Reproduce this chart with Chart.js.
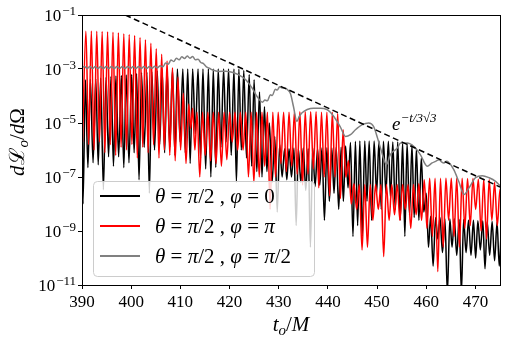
<!DOCTYPE html>
<html lang="en">
<head>
<meta charset="UTF-8">
<title>dL/dOmega vs t</title>
<script src="https://cdn.jsdelivr.net/npm/chart.js"></script>
<style>
  html, body { margin: 0; padding: 0; background: #fff; }
  #wrap { width: 508px; height: 343px; }
</style>
</head>
<body>
<div id="wrap"><canvas id="chart" width="508" height="343"></canvas></div>
<script>
// values, stored as log10 of dL/dOmega
const xTicks = [390, 400, 410, 420, 430, 440, 450, 460, 470];
const yTickValues = [1e-11, 1e-9, 1e-7, 1e-5, 1e-3, 1e-1];

const seriesNames = ['θ = π/2 , φ = 0', 'θ = π/2 , φ = π', 'θ = π/2 , φ = π/2'];

// theta = pi/2, phi = 0 (black)
const blackT = [390.0, 390.2, 390.7, 391.2, 391.7, 392.25, 392.8, 393.3, 393.8, 394.35, 394.9, 395.4, 395.9, 396.4, 396.9, 397.45,
  398.0, 398.5, 399.0, 399.55, 400.1, 400.6, 401.1, 401.6, 402.1, 402.65, 403.2, 403.7, 404.2, 404.75, 405.3, 405.8,
  406.3, 406.8, 407.3, 407.85, 408.4, 408.9, 409.4, 409.95, 410.5, 411.0, 411.5, 412.0, 412.5, 413.05, 413.6, 414.1,
  414.6, 415.15, 415.7, 416.2, 416.7, 417.2, 417.7, 418.25, 418.8, 419.3, 419.8, 420.35, 420.9, 421.4, 421.9, 422.4,
  422.9, 423.45, 424.0, 424.5, 425.0, 425.55, 426.1, 426.6, 427.1, 427.6, 428.1, 428.65, 429.2, 429.7, 430.2, 430.7,
  431.2, 431.65, 432.1, 432.6, 433.1, 433.55, 434.0, 434.5, 435.0, 435.5, 436.0, 436.45, 436.9, 437.4, 437.9, 438.35,
  438.8, 439.3, 439.8, 440.3, 440.8, 441.25, 441.7, 442.2, 442.7, 443.15, 443.6, 444.1, 444.6, 445.1, 445.6, 446.05,
  446.5, 447.0, 447.5, 447.95, 448.4, 448.9, 449.4, 449.9, 450.4, 450.85, 451.3, 451.8, 452.3, 452.75, 453.2, 453.7,
  454.2, 454.7, 455.2, 455.65, 456.1, 456.6, 457.1, 457.55, 458.0, 458.5, 459.0, 459.5, 460.0, 460.45, 460.9, 461.4,
  461.9, 462.35, 462.8, 463.3, 463.8, 464.3, 464.8, 465.25, 465.7, 466.2, 466.7, 467.15, 467.6, 468.1, 468.6, 469.1,
  469.6, 470.05, 470.5, 471.0, 471.5, 471.95, 472.4, 472.9, 473.4, 473.9, 474.4, 474.85, 475.3];
const blackLog = [-3.6, -8.0, -3.40, -6.65, -3.38, -6.47, -3.36, -6.55, -3.33, -7.47, -3.30, -6.25, -3.28, -6.6, -3.26, -6.25,
  -3.24, -6.65, -3.22, -6.47, -3.20, -6.1, -3.17, -7.1, -3.14, -5.9, -3.12, -7.6, -3.10, -6.0, -3.07, -5.8,
  -3.05, -6.1, -3.03, -5.9, -3.01, -6.2, -3.0, -5.7, -3.0, -6.1, -3.0, -6.5, -3.0, -5.4, -3.0, -6.3,
  -3.0, -6.7, -3.0, -7.0, -3.0, -6.65, -3.0, -5.9, -3.0, -5.7, -3.0, -6.2, -3.0, -7.2, -3.0, -6.0,
  -3.05, -6.3, -3.2, -6.6, -3.4, -6.8, -3.85, -7.0, -4.4, -6.8, -5.0, -7.2, -5.5, -8.3, -5.8, -7.0,
  -5.95, -7.1, -5.95, -7.0, -5.93, -8.8, -5.95, -7.2, -5.93, -7.5, -5.95, -9.6, -5.93, -7.35, -5.95, -7.3,
  -5.93, -8.6, -5.92, -7.9, -5.93, -7.6, -5.9, -8.2, -5.9, -7.9, -5.85, -7.4, -5.72, -9.2, -5.68, -8.8,
  -5.67, -9.2, -5.67, -7.9, -5.67, -8.6, -5.67, -7.6, -5.67, -8.2, -5.68, -7.6, -5.68, -7.8, -5.7, -8.2,
  -5.7, -8.6, -5.72, -9.2, -5.75, -8.4, -5.82, -8.5, -5.95, -8.6, -6.3, -8.3, -7.6, -9.6, -8.45, -10.3,
  -8.5, -9.3, -8.5, -9.8, -8.55, -11.3, -8.55, -9.6, -8.55, -9.9, -8.57, -11.3, -8.57, -9.8, -8.6, -9.9,
  -8.6, -10.0, -8.62, -9.7, -8.62, -10.4, -8.65, -9.9, -8.65, -10.1, -8.68, -10.3, -8.7];

// theta = pi/2, phi = pi (red)
const redT = [390.1, 390.8, 391.35, 391.9, 392.45, 393.0, 393.55, 394.1, 394.65, 395.2, 395.75, 396.3, 396.85, 397.4, 397.95, 398.5,
  399.05, 399.6, 400.15, 400.7, 401.25, 401.8, 402.35, 402.9, 403.45, 404.0, 404.55, 405.1, 405.65, 406.2, 406.75, 407.3,
  407.85, 408.4, 408.95, 409.5, 410.05, 410.6, 411.15, 411.7, 412.1, 412.5, 412.95, 413.4, 413.95, 414.5, 415.05, 415.6,
  416.15, 416.7, 417.25, 417.8, 418.35, 418.9, 419.45, 420.0, 420.55, 421.1, 421.65, 422.2, 422.75, 423.3, 423.85, 424.4,
  424.95, 425.5, 426.05, 426.6, 427.15, 427.7, 428.25, 428.8, 429.35, 429.9, 430.45, 431.0, 431.55, 432.1, 432.65, 433.2,
  433.75, 434.3, 434.85, 435.4, 435.95, 436.5, 437.05, 437.6, 438.15, 438.7, 439.25, 439.8, 440.35, 440.9, 441.45, 442.0,
  442.55, 443.1, 443.65, 444.2, 444.75, 445.3, 445.85, 446.4, 446.95, 447.5, 448.05, 448.6, 449.15, 449.7, 450.25, 450.8,
  451.35, 451.9, 452.45, 453.0, 453.55, 454.1, 454.65, 455.2, 455.75, 456.3, 456.85, 457.4, 457.95, 458.5, 459.05, 459.6,
  460.15, 460.7, 461.25, 461.8, 462.35, 462.9, 463.45, 464.0, 464.55, 465.1, 465.65, 466.2, 466.75, 467.3, 467.85, 468.4,
  468.95, 469.5, 470.05, 470.6, 471.15, 471.7, 472.25, 472.8, 473.35, 473.9, 474.45, 475.0, 475.5];
const redLog = [-5.7, -1.60, -5.8, -1.59, -6.0, -1.60, -5.7, -1.61, -6.1, -1.62, -5.8, -1.64, -6.2, -1.66, -5.9, -1.69,
  -6.0, -1.72, -5.8, -1.76, -6.3, -1.83, -5.9, -1.92, -6.1, -2.05, -5.8, -2.25, -6.3, -2.45, -6.0, -2.70,
  -6.2, -2.95, -6.4, -3.30, -6.0, -3.9, -6.5, -4.3, -5.2, -4.45, -6.0, -4.6, -7.0, -4.6, -6.2, -4.6,
  -6.4, -4.6, -6.5, -4.6, -6.6, -4.6, -6.36, -4.6, -5.7, -4.6, -6.0, -4.6, -6.0, -4.6, -7.0, -4.6,
  -7.2, -4.6, -7.0, -4.6, -6.6, -4.6, -8.2, -4.6, -7.0, -4.6, -6.5, -4.6, -6.8, -4.6, -6.6, -4.58,
  -6.9, -4.58, -7.3, -4.58, -6.9, -4.58, -6.7, -4.58, -7.4, -4.6, -7.0, -4.6, -7.7, -4.6, -7.0, -4.65,
  -7.8, -5.25, -7.0, -6.4, -8.0, -7.25, -8.2, -7.28, -9.7, -7.28, -9.6, -7.28, -8.6, -7.28, -8.2, -7.28,
  -9.95, -7.28, -8.6, -7.28, -8.4, -7.28, -8.6, -7.28, -8.2, -7.28, -8.9, -7.28, -8.4, -7.25, -8.6, -7.1,
  -8.9, -7.05, -9.2, -7.05, -10.5, -7.05, -9.6, -7.05, -8.6, -7.05, -9.2, -7.05, -9.6, -7.05, -8.9, -7.06,
  -8.8, -7.06, -8.2, -7.08, -9.0, -7.08, -9.3, -7.1, -8.6, -7.2, -8.8, -7.45, -8.0];

// theta = pi/2, phi = pi/2 (gray)
const grayT = [390.0, 390.5, 391.05, 391.6, 392.15, 392.7, 393.25, 393.8, 394.35, 394.9, 395.45, 396.0, 396.55, 397.1, 397.65, 398.2,
  398.75, 399.3, 399.85, 400.4, 400.95, 401.5, 402.05, 402.6, 403.15, 403.7, 404.25, 404.8, 405.35, 405.9, 406.45, 407.0,
  407.55, 408.1, 408.65, 409.2, 409.75, 410.3, 410.85, 411.4, 411.95, 412.5, 413.05, 413.6, 414.15, 414.7, 415.3, 416.0,
  416.5, 417.8, 419.2, 420.5, 421.9, 423.3, 424.6, 425.6, 426.7, 427.2, 427.7, 428.3, 428.7, 429.3, 429.7, 430.2,
  430.7, 431.3, 431.8, 432.4, 433.0, 433.7, 434.2, 434.7, 435.8, 437.1, 438.5, 439.8, 440.5, 441.2, 442.5, 443.6,
  444.6, 445.6, 447.0, 448.3, 449.3, 450.1, 451.0, 451.9, 452.7, 454.1, 454.8, 456.1, 457.5, 458.8, 460.2, 461.2,
  461.9, 462.6, 463.1, 463.6, 464.1, 464.6, 465.6, 466.6, 467.7, 468.7, 470.0, 471.4, 472.8, 474.1, 475.1];
const grayLog = [-2.95, -2.91, -2.98, -2.91, -2.98, -2.91, -2.98, -2.91, -2.98, -2.91, -2.98, -2.91, -2.98, -2.91, -2.98, -2.91,
  -2.98, -2.91, -2.98, -2.91, -2.98, -2.91, -2.98, -2.91, -2.98, -2.91, -2.97, -2.90, -2.96, -2.88, -2.92, -2.78,
  -2.82, -2.67, -2.72, -2.60, -2.66, -2.55, -2.61, -2.52, -2.60, -2.54, -2.66, -2.64, -2.76, -2.80, -2.92, -2.98,
  -3.03, -3.09, -3.08, -3.12, -3.22, -3.40, -3.71, -4.02, -4.23, -4.15, -4.18, -3.95, -3.98, -3.75, -3.78, -3.66,
  -3.70, -3.70, -3.77, -3.92, -4.39, -4.94, -4.75, -4.63, -4.50, -4.45, -4.45, -4.50, -4.60, -4.76, -5.13, -5.50,
  -5.43, -5.25, -5.06, -5.00, -5.13, -5.56, -6.11, -6.54, -6.17, -5.93, -5.74, -5.74, -5.87, -6.17, -6.60, -6.48,
  -6.42, -6.36, -6.44, -6.48, -6.42, -6.46, -6.73, -7.16, -7.65, -7.40, -7.03, -6.95, -7.03, -7.16, -7.34];

// e^{-t/3sqrt3} guide line
const dashT = [398.8, 475];
const dashLog = [-1.0, -7.37];

const toPoints = (ts, logs) => ts.map((t, i) => ({ x: t, y: Math.pow(10, logs[i]) }));

const SERIF = '"Liberation Serif", "DejaVu Serif", serif';

function richText(ctx, segs, x, y, align) {
    let total = 0;
    segs.forEach(s => {
        ctx.font = (s[1] ? 'italic ' : '') + s[2] + 'px ' + SERIF;
        total += ctx.measureText(s[0]).width;
    });
    let cx = align === 'center' ? x - total / 2 : x;
    ctx.textAlign = 'left';
    ctx.textBaseline = 'alphabetic';
    segs.forEach(s => {
        ctx.font = (s[1] ? 'italic ' : '') + s[2] + 'px ' + SERIF;
        ctx.fillText(s[0], cx, y + (s[3] || 0));
        cx += ctx.measureText(s[0]).width;
    });
}

function legendSegs(last) {
    return [['θ', true, 21], [' = ', false, 21], ['π', true, 21], ['/2 , ', false, 21],
        ['φ', true, 21], [' = ', false, 21]].concat(last);
}

const decorPlugin = {
    id: 'decor',
    afterDatasetsDraw(chart) {
        const ctx = chart.ctx;
        // legend box
        ctx.save();
        ctx.beginPath();
        ctx.roundRect(93.5, 181.5, 221, 95, 4);
        ctx.fillStyle = 'rgba(255,255,255,0.8)';
        ctx.fill();
        ctx.strokeStyle = '#cccccc';
        ctx.lineWidth = 1;
        ctx.stroke();
        const colors = ['#000000', '#ff0000', '#808080'];
        const lasts = [[['0', false, 21]], [['π', true, 21]], [['π', true, 21], ['/2', false, 21]]];
        colors.forEach((c, i) => {
            const yy = 196 + i * 30;
            ctx.strokeStyle = c;
            ctx.lineWidth = 2;
            ctx.beginPath();
            ctx.moveTo(100, yy);
            ctx.lineTo(140, yy);
            ctx.stroke();
            ctx.fillStyle = '#000';
            richText(ctx, legendSegs(lasts[i]), 155, yy + 7, 'left');
        });
        ctx.restore();
    },
    afterDraw(chart) {
        const ctx = chart.ctx;
        const a = chart.chartArea;
        ctx.save();
        // frame
        ctx.strokeStyle = '#000';
        ctx.lineWidth = 1;
        ctx.strokeRect(a.left + 0.5, a.top + 0.5, a.right - a.left, a.bottom - a.top);
        ctx.fillStyle = '#000';
        // y tick labels 10^n
        const ys = chart.scales.y;
        yTickValues.forEach(v => {
            const py = ys.getPixelForValue(v);
            const ex = '−' + Math.abs(Math.round(Math.log10(v)));
            ctx.font = '13px ' + SERIF;
            const wExp = ctx.measureText(ex).width;
            const xe = 76 - wExp;
            ctx.textBaseline = 'alphabetic';
            ctx.textAlign = 'left';
            ctx.fillText(ex, xe, py);
            ctx.font = '17px ' + SERIF;
            ctx.textAlign = 'right';
            ctx.fillText('10', xe - 1, py + 6);
        });
        // axis titles
        richText(ctx, [['t', true, 21], ['o', true, 15, 4], ['/', false, 21], ['M', true, 21]], 291, 331, 'center');
        ctx.save();
        ctx.translate(24, 142);
        ctx.rotate(-Math.PI / 2);
        richText(ctx, [['d', true, 21], ['ℒ', false, 21], ['o', true, 15, 4], ['/', false, 21], ['d', true, 21], ['Ω', false, 21]], 0, 0, 'center');
        ctx.restore();
        // guide line label
        richText(ctx, [['e', true, 19], ['−t/3√3', true, 13, -8]], 392, 130, 'left');
        ctx.restore();
    }
};

const commonLine = { pointRadius: 0, borderWidth: 1.5, fill: false, cubicInterpolationMode: 'monotone' };

const chart = new Chart(document.getElementById('chart').getContext('2d'), {
    type: 'line',
    data: {
        datasets: [
            { label: 'exp', data: toPoints(dashT, dashLog), borderColor: '#000', borderWidth: 1.5, borderDash: [6, 3.5], pointRadius: 0, fill: false },
            Object.assign({ label: seriesNames[2], data: toPoints(grayT, grayLog), borderColor: '#808080' }, commonLine),
            Object.assign({ label: seriesNames[1], data: toPoints(redT, redLog), borderColor: '#ff0000' }, commonLine),
            Object.assign({ label: seriesNames[0], data: toPoints(blackT, blackLog), borderColor: '#000000' }, commonLine)
        ]
    },
    options: {
        responsive: false,
        animation: false,
        events: [],
        layout: { padding: { left: 0, right: 8, top: 15, bottom: 0 } },
        plugins: { legend: { display: false }, tooltip: { enabled: false } },
        scales: {
            x: {
                type: 'linear',
                min: 390,
                max: 475,
                afterBuildTicks: s => { s.ticks = xTicks.map(v => ({ value: v })); },
                afterFit: s => { s.height = 58; },
                ticks: { color: '#000', padding: 3, font: { family: SERIF, size: 17 }, maxRotation: 0 },
                grid: { drawOnChartArea: false, drawTicks: true, tickLength: 4, color: '#000' },
                border: { display: false }
            },
            y: {
                type: 'logarithmic',
                min: 1e-11,
                max: 1e-1,
                afterBuildTicks: s => { s.ticks = yTickValues.map(v => ({ value: v })); },
                afterFit: s => { s.width = 82; },
                ticks: { callback: () => '', padding: 0 },
                grid: { drawOnChartArea: false, drawTicks: true, tickLength: 4, color: '#000' },
                border: { display: false }
            }
        }
    },
    plugins: [decorPlugin]
});
</script>
</body>
</html>
